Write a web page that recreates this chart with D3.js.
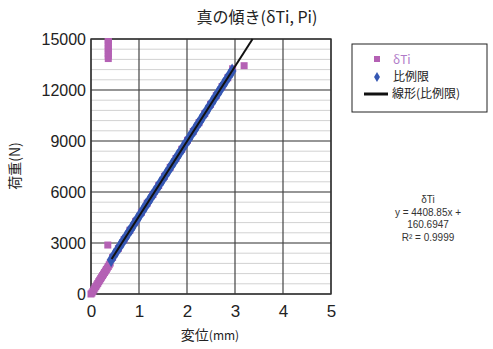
<!DOCTYPE html>
<html>
<head>
<meta charset="utf-8">
<script src="https://cdn.jsdelivr.net/npm/d3@7"></script>
<style>
body { margin: 0; background: #fff; }
text { font-family: "Liberation Sans", Arial, "Noto Sans CJK JP", sans-serif; fill: #222; }
.jp { font-family: "Noto Sans CJK JP", sans-serif; }
</style>
</head>
<body>
<svg width="493" height="349"></svg>
<script>
var svg = d3.select("svg"),
    width = +svg.attr("width"),
    height = +svg.attr("height");

// δTi points (pink squares)
var dtX = [0, 0.02, 0.04, 0.06, 0.08, 0.10, 0.12, 0.14, 0.16, 0.18, 0.20, 0.22, 0.24, 0.26, 0.28, 0.30, 0.32, 0.34, 0.36, 0.38, 0.40,
  0.45, 0.57, 0.69, 0.81, 0.93, 1.05, 1.17, 1.29, 1.41, 1.53, 1.65, 1.77, 1.89, 2.01, 2.13, 2.25, 2.37, 2.49, 2.61, 2.73, 2.85, 2.95,
  0.35, 0.36, 0.36, 0.36, 0.36, 0.36, 0.36, 0.36, 0.36, 0.36, 3.19];
var dtY = [0, 60, 150, 250, 350, 440, 530, 620, 720, 810, 900, 990, 1080, 1170, 1260, 1350, 1440, 1530, 1620, 1720, 1820,
  2150, 2680, 3200, 3750, 4270, 4800, 5340, 5850, 6380, 6920, 7450, 7970, 8510, 9040, 9560, 10080, 10610, 11150, 11670, 12200, 12720, 13250,
  2880, 13850, 14000, 14150, 14300, 14450, 14600, 14750, 14900, 15000, 13430];

// 比例限 points (blue diamonds)
var plX = [0.42, 0.48, 0.54, 0.60, 0.66, 0.72, 0.78, 0.84, 0.90, 0.96, 1.02, 1.08, 1.14, 1.20, 1.26, 1.32, 1.38, 1.44, 1.50, 1.56, 1.62,
  1.68, 1.74, 1.80, 1.86, 1.92, 1.98, 2.04, 2.10, 2.16, 2.22, 2.28, 2.34, 2.40, 2.46, 2.52, 2.58, 2.64, 2.70, 2.76, 2.82, 2.88, 2.94];
var plY = [2010, 2280, 2540, 2810, 3070, 3330, 3600, 3860, 4130, 4390, 4660, 4920, 5190, 5450, 5720, 5980, 6240, 6510, 6770, 7040, 7300,
  7570, 7830, 8100, 8360, 8630, 8890, 9150, 9420, 9680, 9950, 10210, 10480, 10740, 11010, 11270, 11540, 11800, 12060, 12330, 12590, 12860, 13120];

// linear trend (比例限)
var slope = 4408.85, intercept = 160.6947;
var trendX = [0.43, 3.366];

var xTicks = [0, 1, 2, 3, 4, 5];
var yTicks = [0, 3000, 6000, 9000, 12000, 15000];
var yMinor = d3.range(0, 15001, 600);

var legendLabels = ["δTi", "比例限", "線形(比例限)"];
var eqLines = ["δTi", "y = 4408.85x +", "160.6947", "R² = 0.9999"];

var m = {left: 91, right: 331, top: 39, bottom: 294};
var x = d3.scaleLinear().domain([0, 5]).range([m.left, m.right]);
var y = d3.scaleLinear().domain([0, 15000]).range([m.bottom, m.top]);

// minor grid
svg.append("g").selectAll("line").data(yMinor).enter().append("line")
  .attr("x1", m.left).attr("x2", m.right)
  .attr("y1", d => y(d)).attr("y2", d => y(d))
  .attr("stroke", "#d2d2d2").attr("stroke-width", 1);

// major grid
svg.append("g").selectAll("line").data(yTicks).enter().append("line")
  .attr("x1", m.left).attr("x2", m.right)
  .attr("y1", d => y(d)).attr("y2", d => y(d))
  .attr("stroke", "#444").attr("stroke-width", 1.2);
svg.append("g").selectAll("line").data(xTicks).enter().append("line")
  .attr("x1", d => x(d)).attr("x2", d => x(d))
  .attr("y1", m.top).attr("y2", m.bottom)
  .attr("stroke", "#444").attr("stroke-width", 1.2);

svg.append("rect")
  .attr("x", m.left).attr("y", m.top)
  .attr("width", m.right - m.left).attr("height", m.bottom - m.top)
  .attr("fill", "none").attr("stroke", "#333").attr("stroke-width", 1.4);

// axes labels
var yAxis = d3.axisLeft(y).tickValues(yTicks).tickFormat(d3.format("d")).tickSize(0).tickPadding(5);
var gy = svg.append("g").attr("transform", `translate(${m.left},0)`).call(yAxis);
gy.select(".domain").remove();
gy.selectAll("text").style("font-size", "16px").style("font-family", "Liberation Sans, Arial, sans-serif").attr("fill", "#333");

var xAxis = d3.axisBottom(x).tickValues(xTicks).tickFormat(d3.format("d")).tickSize(0).tickPadding(11);
var gx = svg.append("g").attr("transform", `translate(0,${m.bottom})`).call(xAxis);
gx.select(".domain").remove();
gx.selectAll("text").style("font-size", "17px").style("font-family", "Liberation Sans, Arial, sans-serif").attr("fill", "#333");

// clip
svg.append("clipPath").attr("id", "clip").append("rect")
  .attr("x", m.left - 6).attr("y", m.top - 1).attr("width", m.right - m.left + 12).attr("height", m.bottom - m.top + 7);

var plot = svg.append("g").attr("clip-path", "url(#clip)");

var dt = dtX.map((d, i) => [d, dtY[i]]);
var pl = plX.map((d, i) => [d, plY[i]]);

plot.selectAll(".dt").data(dt).enter().append("rect")
  .attr("class", "dt")
  .attr("x", d => x(d[0]) - 3.5).attr("y", d => y(d[1]) - 3.5)
  .attr("width", 7).attr("height", 7)
  .attr("fill", "#b461b4");

var diamond = d3.symbol().type(d3.symbolDiamond).size(64);
plot.selectAll(".pl").data(pl).enter().append("path")
  .attr("class", "pl")
  .attr("d", diamond)
  .attr("transform", d => `translate(${x(d[0])},${y(d[1])})`)
  .attr("fill", "#3557b3");

plot.append("line")
  .attr("x1", x(trendX[0])).attr("y1", y(slope * trendX[0] + intercept))
  .attr("x2", x(trendX[1])).attr("y2", y(slope * trendX[1] + intercept))
  .attr("stroke", "#111").attr("stroke-width", 2);

// titles
svg.append("text").attr("class", "jp")
  .attr("x", 257).attr("y", 23).attr("text-anchor", "middle")
  .style("font-size", "16px").text("真の傾き(δTi, Pi)");

svg.append("text").attr("class", "jp")
  .attr("transform", "translate(20,166) rotate(-90)")
  .attr("text-anchor", "middle")
  .style("font-size", "14px").text("荷重(N)");

var xt = svg.append("text").attr("class", "jp")
  .attr("x", 210).attr("y", 340).attr("text-anchor", "middle")
  .style("font-size", "14px");
xt.append("tspan").text("変位");
xt.append("tspan").style("font-size", "12px").text("(mm)");

// legend
var lg = svg.append("g").attr("transform", "translate(352,44)");
lg.append("rect").attr("width", 135).attr("height", 68)
  .attr("fill", "#fff").attr("stroke", "#222").attr("stroke-width", 1);
lg.append("rect").attr("x", 22).attr("y", 12).attr("width", 6).attr("height", 6).attr("fill", "#b461b4");
lg.append("path").attr("d", d3.symbol().type(d3.symbolDiamond).size(30)).attr("transform", "translate(25,33)").attr("fill", "#3557b3");
lg.append("line").attr("x1", 12).attr("x2", 36).attr("y1", 50).attr("y2", 50).attr("stroke", "#111").attr("stroke-width", 3);
lg.selectAll("text.lt").data(legendLabels).enter().append("text")
  .attr("class", "jp lt")
  .attr("x", (d, i) => i == 2 ? 40 : 41)
  .attr("y", (d, i) => 20 + i * 17)
  .style("font-size", "12px")
  .style("fill", (d, i) => i == 0 ? "#b07ac8" : "#222")
  .text(d => d);

// equation
svg.append("g").selectAll("text").data(eqLines).enter().append("text")
  .attr("x", 428).attr("y", (d, i) => 203 + i * 12.5)
  .attr("text-anchor", "middle")
  .style("font-size", "10px").style("fill", "#333")
  .text(d => d);
</script>
</body>
</html>
